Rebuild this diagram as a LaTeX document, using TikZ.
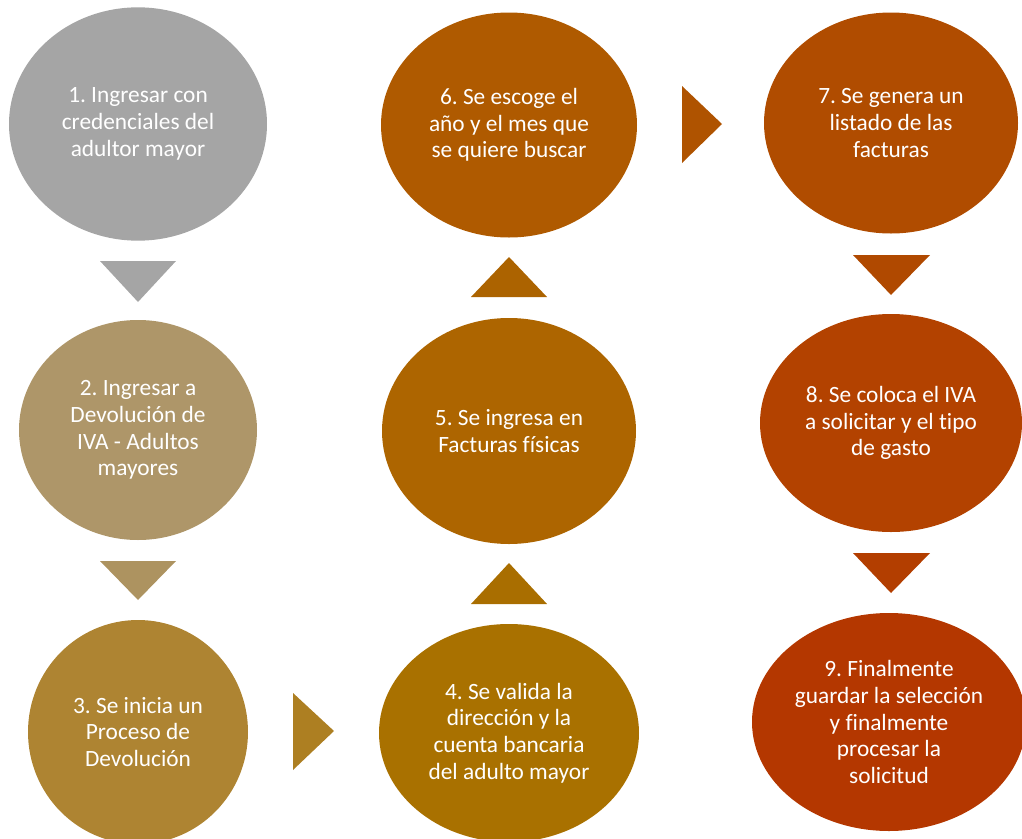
\documentclass[tikz,border=0pt]{standalone}
\usepackage{fontspec}
\setmainfont[Ligatures=NoCommon, RawFeature={-liga;-calt;-clig;-dlig}]{Carlito}
\frenchspacing
\usetikzlibrary{shapes.geometric, positioning, calc}
\definecolor{cone}{HTML}{A5A5A5}
\definecolor{ctwo}{HTML}{AE9669}
\definecolor{cthree}{HTML}{AE8432}
\definecolor{cfour}{HTML}{A97100}
\definecolor{cfive}{HTML}{AD6500}
\definecolor{csix}{HTML}{AF5A00}
\definecolor{cseven}{HTML}{B04C00}
\definecolor{ceight}{HTML}{B34200}
\definecolor{cnine}{HTML}{B43700}
\definecolor{ttwo}{HTML}{AD9360}
\definecolor{tthree}{HTML}{AD7F22}
\definecolor{tfour}{HTML}{A96E00}
\definecolor{tfive}{HTML}{AC6300}
\definecolor{tsix}{HTML}{AF5300}
\definecolor{tseven}{HTML}{B04900}
\definecolor{teight}{HTML}{B33E00}
\tikzstyle{stage} = [ellipse, inner sep=0pt, text=white, align=center, font=\fontsize{17.5}{20}\selectfont]
\tikzstyle{pointer} = [draw=none]
\begin{document}
\begin{tikzpicture}[x=0.75pt, y=-0.75pt]

\useasboundingbox (0,0) rectangle (1022,839);

\node(st1)[stage, fill=cone, minimum width=193.5pt, minimum height=175pt] at (138,124) {1. Ingresar con\\credenciales del\\adultor mayor};
\node(st2)[stage, fill=ctwo, minimum width=178.5pt, minimum height=165pt] at (138,430) {2. Ingresar a\\Devolución de\\IVA - Adultos\\mayores};
\node(st3)[stage, fill=cthree, minimum width=165pt, minimum height=168pt] at (138,732) {3. Se inicia un\\Proceso de\\Devolución};
\node(st4)[stage, fill=cfour, minimum width=195pt, minimum height=163.5pt] at (509,733) {4. Se valida la\\dirección y la\\cuenta bancaria\\del adulto mayor};
\node(st5)[stage, fill=cfive, minimum width=190.5pt, minimum height=169.5pt] at (509,431) {5. Se ingresa en\\Facturas físicas};
\node(st6)[stage, fill=csix, minimum width=192pt, minimum height=168.75pt] at (509,125) {6. Se escoge el\\año y el mes que\\se quiere buscar};
\node(st7)[stage, fill=cseven, minimum width=190.5pt, minimum height=165.75pt] at (891,123) {7. Se genera un\\listado de las\\facturas};
\node(st8)[stage, fill=ceight, minimum width=196.5pt, minimum height=163.5pt] at (891,423) {8. Se coloca el IVA\\a solicitar y el tipo\\de gasto};
\node(st9)[stage, fill=cnine, minimum width=205.5pt, minimum height=163.5pt] at (889,722) {9. Finalmente\\guardar la selección\\y finalmente\\procesar la\\solicitud};

% triangles between the steps
\fill[pointer, cone]   (100,261) -- (176,261) -- (138,302) -- cycle;
\fill[pointer, ttwo]   (100,561) -- (176,561) -- (138,600) -- cycle;
\fill[pointer, tthree] (293,693) -- (293,770) -- (334,731) -- cycle;
\fill[pointer, tfour]  (471,604) -- (547,604) -- (509,563) -- cycle;
\fill[pointer, tfive]  (471,297) -- (547,297) -- (509,257) -- cycle;
\fill[pointer, tsix]   (682,86) -- (682,163) -- (722,124) -- cycle;
\fill[pointer, tseven] (853,255) -- (930,255) -- (891,295) -- cycle;
\fill[pointer, teight] (853,553) -- (930,553) -- (891,593) -- cycle;
\end{tikzpicture}
\end{document}
